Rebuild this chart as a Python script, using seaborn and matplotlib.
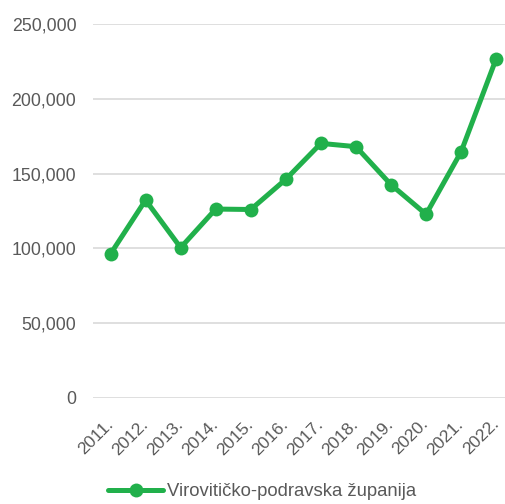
import seaborn as sns
import matplotlib.pyplot as plt
import pandas as pd
from matplotlib.ticker import FuncFormatter

years = ['2011.', '2012.', '2013.', '2014.', '2015.', '2016.',
         '2017.', '2018.', '2019.', '2020.', '2021.', '2022.']
values = [96300, 132300, 100500, 126300, 126000, 146200,
          170200, 168000, 142600, 122800, 164600, 226800]
series_name = 'Virovitičko-podravska županija'

green = '#21b04b'
grey = '#595959'

sns.set_style('white')
plt.rcParams['font.family'] = ['Liberation Sans', 'DejaVu Sans']

df = pd.DataFrame({'year': years, 'value': values})

fig = plt.figure(figsize=(5.06, 5.04), dpi=100)
ax = fig.add_axes([93 / 506, 1 - 398 / 504, 1 - 93 / 506, (398 - 24) / 504])

sns.lineplot(data=df, x='year', y='value', ax=ax, color=green, linewidth=3.6,
             marker='o', markersize=10, markeredgewidth=0, label=series_name,
             sort=False)

ax.set_ylim(0, 250000)
ax.set_xlim(-0.5, 11.28)
ax.set_yticks([0, 50000, 100000, 150000, 200000, 250000])
ax.yaxis.set_major_formatter(FuncFormatter(lambda v, p: f'{int(v):,}'))
ax.grid(axis='y', color='#d9d9d9', linewidth=1.2)
ax.grid(axis='x', visible=False)
ax.set_axisbelow(True)
for s in ax.spines.values():
    s.set_visible(False)
ax.set_xlabel('')
ax.set_ylabel('')
ax.tick_params(axis='y', labelsize=12.8, labelcolor=grey, length=0, pad=12)
ax.tick_params(axis='x', length=0, pad=17)
for lbl in ax.get_xticklabels():
    lbl.set_rotation(45)
    lbl.set_ha('right')
    lbl.set_va('center')
    lbl.set_rotation_mode('anchor')
    lbl.set_fontsize(12.5)
    lbl.set_color(grey)
    lbl.set_family(['Liberation Sans'])

ax.legend(loc='center', bbox_to_anchor=(262 / 506, 12 / 504),
          bbox_transform=fig.transFigure, frameon=False, fontsize=13.3,
          labelcolor=grey, handlelength=3.0, handletextpad=0.2)

fig.savefig('out.png', dpi=100)
